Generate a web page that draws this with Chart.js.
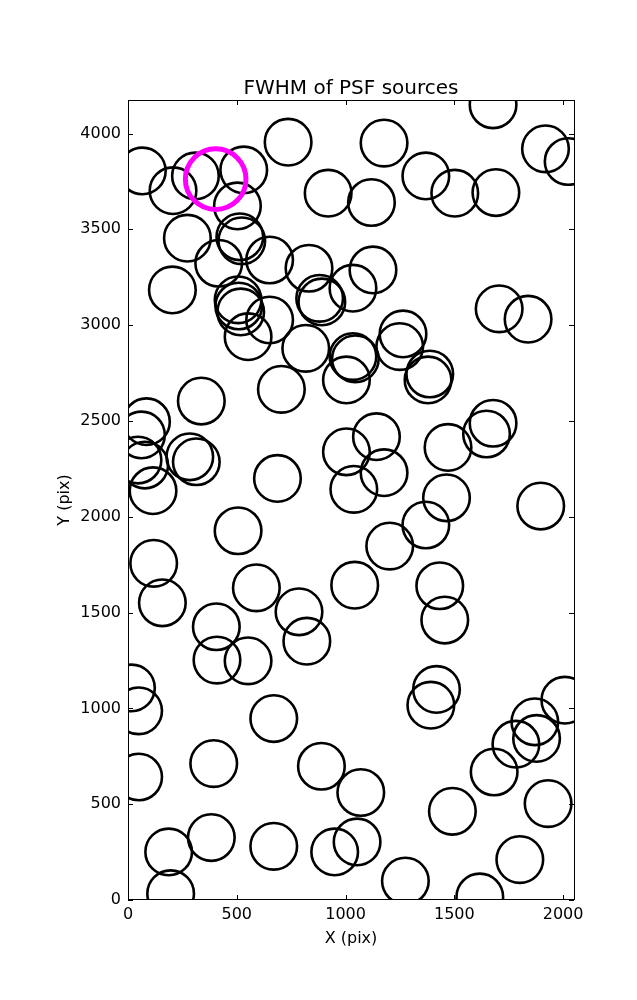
<!DOCTYPE html>
<html>
<head>
<meta charset="utf-8">
<script src="https://cdn.jsdelivr.net/npm/chart.js@4.4.1/dist/chart.umd.min.js"></script>
<style>
  html, body { margin: 0; padding: 0; background: #fff; }
</style>
</head>
<body>
<canvas id="psfChart" width="637" height="1000"></canvas>
<script>
// posições das fontes (pix)
const srcX = [66, 207, 310, 532, 503, 736, 920, 1119, 1177, 1369, 1502, 1691, 1678, 1919, 2023,
    273, 514, 523, 417, 651, 832, 881, 891, 1126, 1034, 204, 506, 509, 518, 552,
    651, 817, 1264, 1249, 1706, 1839, 1034, 1045, 1004, 705, 1379, 1387, 337, 1678, 1648,
    1142, 1004, 1471, 284, 314, 1177, 687, 1038, 1464, 1897, 1369, 506, 1203, 118, 590,
    1042, 1433, 158, 786, 1456, 406, 822, 409, 552, 16, 49, 670, 1418, 1392, 2008,
    1870, 1878, 1783, 1683, 49, 394, 889, 1070, 1491, 1931, 187, 383, 670, 950, 1053,
    1801, 1275, 1617, 196, 85, 62, 46, 77, 115];
const srcY = [3805, 3702, 3779, 3810, 3622, 3955, 3689, 3640, 3950, 3779, 3689, 3692, 4150, 3920, 3854,
    3454, 3461, 3440, 3323, 3340, 3297, 3140, 3121, 3288, 3193, 3184, 3132, 3100, 3069, 2940,
    3027, 2879, 2954, 2888, 3085, 3031, 2836, 2824, 2714, 2665, 2714, 2745, 2604, 2488, 2432,
    2418, 2339, 2362, 2313, 2287, 2230, 2200, 2143, 2099, 2056, 1957, 1927, 1847, 1757, 1629,
    1643, 1640, 1551, 1504, 1461, 1426, 1351, 1252, 1248, 1107, 987, 947, 1099, 1017, 1043,
    930, 843, 813, 668, 642, 712, 698, 561, 463, 503, 251, 326, 280, 251, 303,
    211, 99, 16, 33, 2496, 2427, 2296, 2270, 2136];

// fonte destacada
const markX = [403];
const markY = [3762];

const xTicks = [0, 500, 1000, 1500, 2000];
const yTicks = [0, 500, 1000, 1500, 2000, 2500, 3000, 3500, 4000];

const chartTitle = 'FWHM of PSF sources';
const xLabel = 'X (pix)';
const yLabel = 'Y (pix)';

const FONT = '"DejaVu Sans", "Liberation Sans", sans-serif';

// moldura e ticks para dentro, como no matplotlib
const framePlugin = {
    id: 'frame',
    afterDatasetsDraw(chart) {
        const { ctx, chartArea: a, scales } = chart;
        ctx.save();
        ctx.strokeStyle = '#000';
        ctx.lineWidth = 1;
        ctx.strokeRect(a.left + 0.5, a.top + 0.5, a.right - a.left, a.bottom - a.top - 1);

        ctx.beginPath();
        xTicks.forEach(v => {
            const px = Math.round(scales.x.getPixelForValue(v)) + 0.5;
            ctx.moveTo(px, a.bottom); ctx.lineTo(px, a.bottom - 5);
            ctx.moveTo(px, a.top); ctx.lineTo(px, a.top + 5);
        });
        yTicks.forEach(v => {
            const py = Math.round(scales.y.getPixelForValue(v)) + 0.5;
            ctx.moveTo(a.left, py); ctx.lineTo(a.left + 5, py);
            ctx.moveTo(a.right, py); ctx.lineTo(a.right - 5, py);
        });
        ctx.stroke();

        // título centrado sobre os eixos
        ctx.fillStyle = '#000';
        ctx.font = '20px ' + FONT;
        ctx.textAlign = 'center';
        ctx.textBaseline = 'alphabetic';
        ctx.fillText(chartTitle, (a.left + a.right) / 2, 93.5);
        ctx.restore();
    }
};

const ctx = document.getElementById('psfChart').getContext('2d');
new Chart(ctx, {
    type: 'scatter',
    data: {
        datasets: [{
            label: 'destaque',
            data: markX.map((x, i) => ({ x: x, y: markY[i] })),
            pointRadius: 30.3,
            pointBorderWidth: 5,
            pointBorderColor: '#ff00ff',
            pointBackgroundColor: 'rgba(0,0,0,0)',
            clip: 0
        }, {
            label: 'fontes',
            data: srcX.map((x, i) => ({ x: x, y: srcY[i] })),
            pointRadius: 23.3,
            pointBorderWidth: 2.6,
            pointBorderColor: '#000',
            pointBackgroundColor: 'rgba(0,0,0,0)',
            clip: 0
        }]
    },
    options: {
        responsive: false,
        animation: false,
        events: [],
        layout: { padding: { left: 0, right: 63, top: 100, bottom: 0 } },
        plugins: {
            legend: { display: false },
            tooltip: { enabled: false }
        },
        scales: {
            x: {
                type: 'linear',
                min: 0,
                max: 2050,
                afterFit: s => { s.height = 100; },
                afterBuildTicks: s => { s.ticks = xTicks.map(v => ({ value: v })); },
                grid: { display: false, drawTicks: false },
                border: { display: false },
                ticks: {
                    color: '#000',
                    padding: 5,
                    maxRotation: 0,
                    font: { family: FONT, size: 16 },
                    callback: v => String(v)
                },
                title: {
                    display: true,
                    text: xLabel,
                    color: '#000',
                    font: { family: FONT, size: 16 },
                    padding: { top: 0, bottom: 52 }
                }
            },
            y: {
                type: 'linear',
                min: 0,
                max: 4175,
                afterFit: s => { s.width = 128; },
                afterBuildTicks: s => { s.ticks = yTicks.map(v => ({ value: v })); },
                grid: { display: false, drawTicks: false },
                border: { display: false },
                ticks: {
                    color: '#000',
                    padding: 7,
                    font: { family: FONT, size: 16 },
                    callback: v => String(v)
                },
                title: {
                    display: true,
                    text: yLabel,
                    color: '#000',
                    font: { family: FONT, size: 16 },
                    padding: { top: 55, bottom: 0 }
                }
            }
        }
    },
    plugins: [framePlugin]
});
</script>
</body>
</html>
